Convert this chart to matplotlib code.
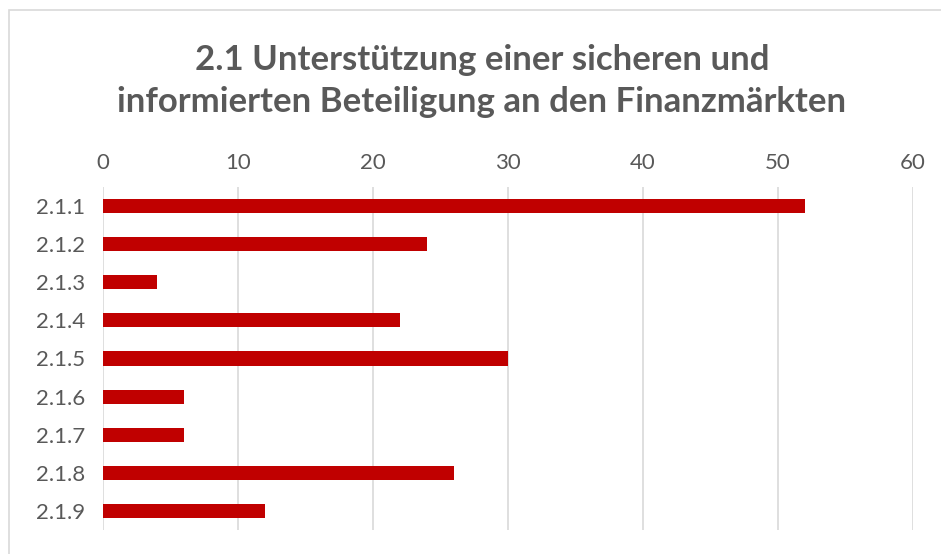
import matplotlib.pyplot as plt
from matplotlib.patches import Rectangle

categories = ['2.1.1', '2.1.2', '2.1.3', '2.1.4', '2.1.5', '2.1.6', '2.1.7', '2.1.8', '2.1.9']
values = [52, 24, 4, 22, 30, 6, 6, 26, 12]
xticks = [0, 10, 20, 30, 40, 50, 60]

title = '2.1 Unterstützung einer sicheren und\ninformierten Beteiligung an den Finanzmärkten'

plt.rcParams['font.family'] = ['Lato', 'DejaVu Sans']

fig = plt.figure(figsize=(9.41, 5.54), dpi=100)
fig.patch.set_facecolor('white')

# chart border like excel
fig.patches.append(Rectangle((9 / 941, -0.1), 1.1, 1 - 10 / 554 + 0.1,
                             transform=fig.transFigure, fill=False,
                             edgecolor='#D9D9D9', linewidth=1.2))

ax = fig.add_axes([103 / 941, 24 / 554, (913 - 103) / 941, (530 - 187) / 554 + 0.0])
ypos = list(range(len(categories)))
ax.barh(ypos, values, height=0.37, color='#C00000', zorder=3)

ax.set_xlim(0, 60)
ax.set_ylim(len(categories) - 0.5, -0.5)
ax.set_xticks(xticks)
ax.set_yticks(ypos)
ax.set_yticklabels(categories)
ax.xaxis.tick_top()
ax.tick_params(axis='both', length=0, labelsize=16, colors='#595959')
ax.tick_params(axis='x', pad=10)
ax.tick_params(axis='y', pad=13)
ax.grid(axis='x', color='#D9D9D9', linewidth=1.2, zorder=0)
for s in ax.spines.values():
    s.set_visible(False)

fig.text(0.512, 1 - 81 / 554, title, ha='center', va='center', fontsize=25,
         fontweight='bold', color='#595959', linespacing=1.4)

fig.savefig('out.png', dpi=100)
